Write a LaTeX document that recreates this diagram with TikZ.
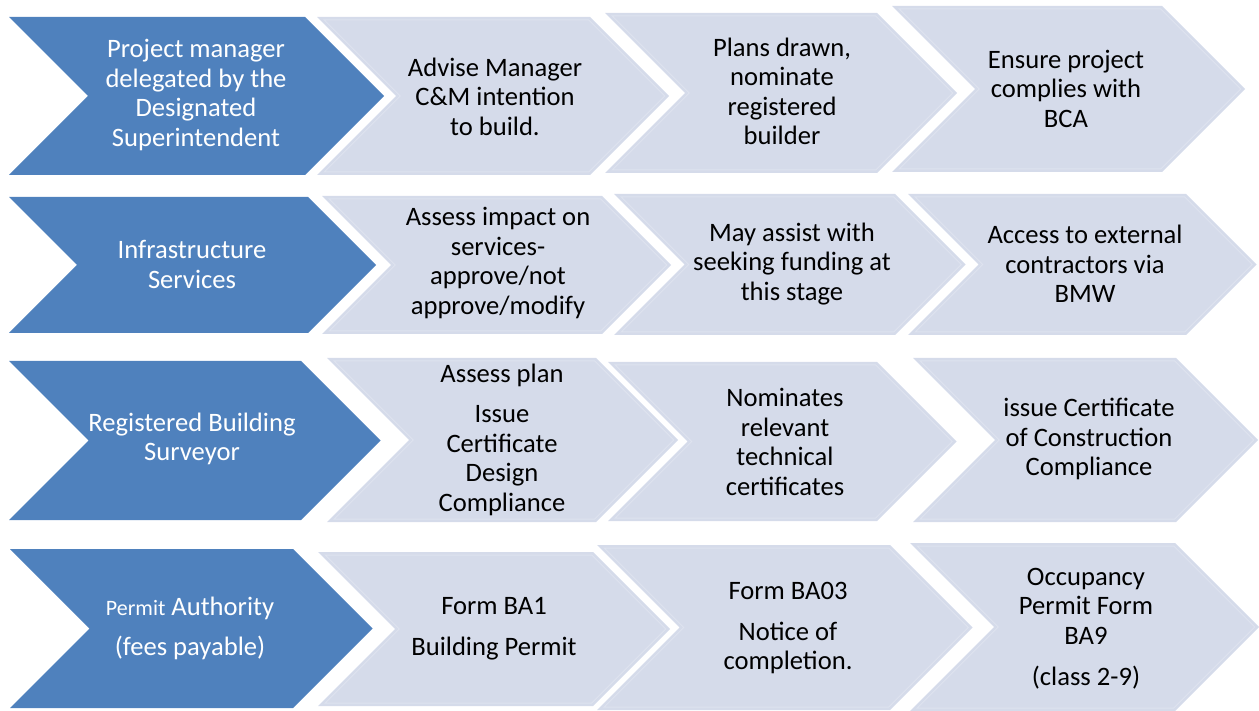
\documentclass[tikz,border=0pt]{standalone}
\usepackage{fontspec}
\setmainfont{Carlito}
\definecolor{chevdark}{HTML}{4F81BD}
\definecolor{chevlight}{HTML}{D5DBEA}
\definecolor{chevrim}{HTML}{DEE3EF}
\tikzset{
  darkchev/.style={fill=chevdark},
  lightchev/.style={fill=chevlight},
  rimline/.style={draw=chevrim, line width=1pt, line join=miter},
  steptext/.style={align=center, inner sep=0pt,
    font=\fontsize{26.6}{29.5}\selectfont},
  darktext/.style={steptext, text=white},
  lighttext/.style={steptext, text=black},
}
% chevron body: style, left x, top y, bottom y, top-right x (pointer angle 90 deg)
\newcommand\chevbody[5]{%
  \pgfmathsetmacro\cd{(#4-#3)/2}%
  \pgfmathsetmacro\cm{(#4+#3)/2}%
  \fill[#1] (#2,#3) -- (#5,#3) -- ({#5+\cd},\cm) -- (#5,#4) -- (#2,#4)
    -- ({#2+\cd},\cm) -- cycle;
}
% faint inner rim of a light chevron: left x, top y, bottom y, top-right x
\newcommand\chevrim[4]{%
  \pgfmathsetmacro\cd{(#3-#2)/2}%
  \pgfmathsetmacro\cm{(#3+#2)/2}%
  \def\e{3}%
  \draw[rimline] ({#1+2.414*\e},{#2+\e}) -- ({#4-0.414*\e},{#2+\e})
    -- ({#4+\cd-1.414*\e},\cm) -- ({#4-0.414*\e},{#3-\e})
    -- ({#1+2.414*\e},{#3-\e}) -- ({#1+\cd+1.414*\e},\cm) -- cycle;
}
\newcommand\lightchevron[4]{\chevbody{lightchev}{#1}{#2}{#3}{#4}\chevrim{#1}{#2}{#3}{#4}}
\begin{document}
\begin{tikzpicture}[x=1pt,y=-1pt]
\useasboundingbox (0,0) rectangle (1259,711);

% row 1
\chevbody{darkchev}{9}{17}{175}{305}
\lightchevron{317}{17}{175}{590}
\lightchevron{605}{13}{173}{877}
\lightchevron{892}{6}{172}{1162}
\node[darktext]  (r1a) at (196,95)   {Project manager\\delegated by the\\Designated\\Superintendent};
\node[lighttext] (r1b) at (495,96.5) {Advise Manager\\C\&M intention\\to build.};
\node[lighttext] (r1c) at (782,91.5) {Plans drawn,\\nominate\\registered\\builder};
\node[lighttext] (r1d) at (1066,88.5) {Ensure project\\complies with\\BCA};

% row 2
\chevbody{darkchev}{9}{197}{333}{308}
\lightchevron{322}{196}{334}{602}
\lightchevron{614}{194}{335}{895}
\lightchevron{908}{194}{335}{1186}
\node[darktext]  (r2a) at (192,264.5) {Infrastructure\\Services};
\node[lighttext] (r2b) at (498,263)   {Assess impact on\\services-\\approve/not\\approve/modify};
\node[lighttext] (r2c) at (792,264)   {May assist with\\seeking funding at\\this stage};
\node[lighttext] (r2d) at (1085,264)  {Access to external\\contractors via\\BMW};

% row 3
\chevbody{darkchev}{9}{361}{520}{301}
\lightchevron{327}{358}{522}{596}
\lightchevron{608}{362}{521}{877}
\lightchevron{913}{358}{522}{1176}
\node[darktext]  (r3a) at (192,439) {Registered Building\\Surveyor};
\node[lighttext] (r3b) at (502,440) {Assess plan\\[10.5pt]Issue\\Certificate\\Design\\Compliance};
\node[lighttext] (r3c) at (785,442) {Nominates\\relevant\\technical\\certificates};
\node[lighttext] (r3d) at (1089,439) {issue Certificate\\of Construction\\Compliance};

% row 4
\chevbody{darkchev}{10}{549}{708}{293}
\lightchevron{318}{552}{706}{593}
\lightchevron{597}{545}{710}{890}
\lightchevron{910}{543}{711}{1175}
\node[darktext]  (r4a) at (190,628) {{\fontsize{22}{29.5}\selectfont Permit} Authority\\[10.5pt](fees payable)};
\node[lighttext] (r4b) at (494,628.5) {Form BA1\\[11.5pt]Building Permit};
\node[lighttext] (r4c) at (788,628) {Form BA03\\[11.5pt]Notice of\\completion.};
\node[lighttext] (r4d) at (1086,628.5) {Occupancy\\Permit Form\\BA9\\[11.5pt](class 2-9)};
\end{tikzpicture}
\end{document}
